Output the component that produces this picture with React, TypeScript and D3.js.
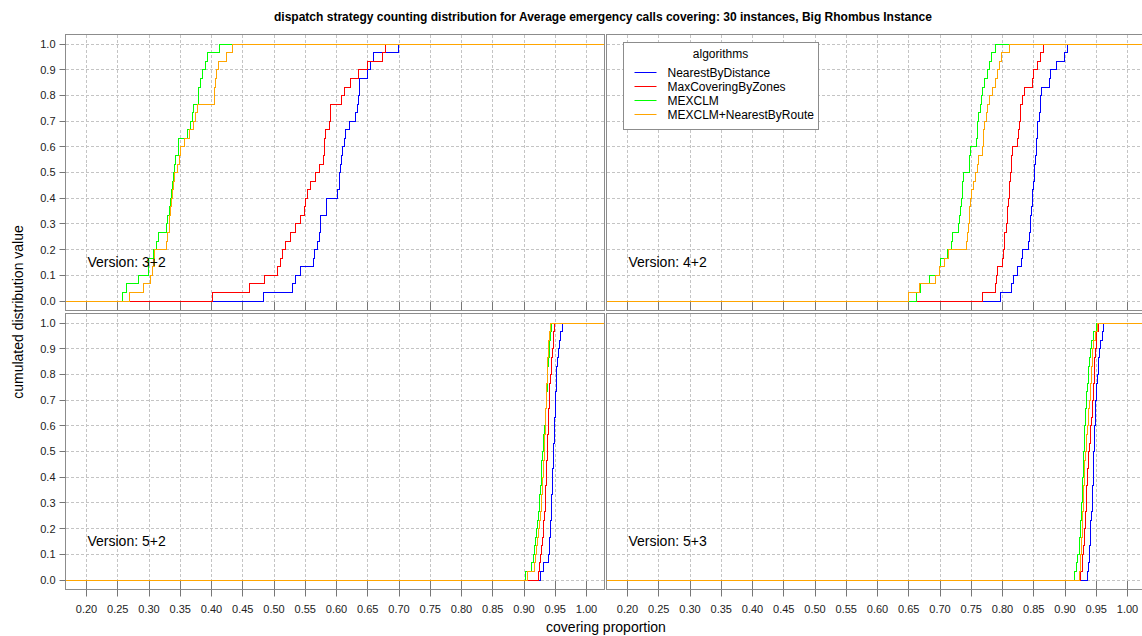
import React from 'react';
import * as d3 from 'd3';

const title = 'dispatch strategy counting distribution for Average emergency calls covering: 30 instances, Big Rhombus Instance';
const algorithms = ['NearestByDistance', 'MaxCoveringByZones', 'MEXCLM', 'MEXCLM+NearestByRoute'];
const colors = ['#0000ff', '#ff0000', '#00ff00', '#ffa500'];
const versions = ['Version: 3+2', 'Version: 4+2', 'Version: 5+2', 'Version: 5+3'];
const xTickLabels = ['0.20', '0.25', '0.30', '0.35', '0.40', '0.45', '0.50', '0.55', '0.60', '0.65', '0.70', '0.75', '0.80', '0.85', '0.90', '0.95', '1.00'];
const yTickLabels = ['0.0', '0.1', '0.2', '0.3', '0.4', '0.5', '0.6', '0.7', '0.8', '0.9', '1.0'];

// covering proportion per instance (30 instances), version 3+2
const nearest32 = [0.483, 0.5293, 0.5347, 0.5416, 0.5629, 0.5651, 0.5693, 0.572, 0.5736, 0.5747, 0.5837, 0.5837, 0.6013, 0.604, 0.6051, 0.6067, 0.6083, 0.6093, 0.612, 0.6147, 0.62, 0.6307, 0.6333, 0.6344, 0.6365, 0.6365, 0.6493, 0.6547, 0.6589, 0.6989];
const maxCov32 = [0.402, 0.46, 0.484, 0.5053, 0.5107, 0.5133, 0.5187, 0.5267, 0.5347, 0.5416, 0.548, 0.5507, 0.5533, 0.5576, 0.5656, 0.572, 0.5784, 0.58, 0.5811, 0.5827, 0.588, 0.5907, 0.5907, 0.6083, 0.612, 0.6227, 0.6349, 0.6493, 0.6733, 0.6787];
const mexclm32 = [0.2575, 0.2639, 0.2831, 0.2996, 0.2996, 0.3065, 0.3119, 0.3156, 0.3279, 0.33, 0.3321, 0.3343, 0.3364, 0.338, 0.3396, 0.3412, 0.3428, 0.3476, 0.3476, 0.3609, 0.3663, 0.3689, 0.3716, 0.3796, 0.3796, 0.3823, 0.3849, 0.3903, 0.3929, 0.412];
const mexRoute32 = [0.2695, 0.2905, 0.302, 0.306, 0.308, 0.3095, 0.3275, 0.33, 0.332, 0.3335, 0.335, 0.3365, 0.338, 0.3395, 0.341, 0.345, 0.348, 0.351, 0.3567, 0.365, 0.3705, 0.374, 0.3777, 0.404, 0.405, 0.406, 0.4075, 0.4116, 0.4247, 0.433];

// version 4+2
const nearest42 = [0.7961, 0.8143, 0.8171, 0.8237, 0.8309, 0.8325, 0.8419, 0.843, 0.8441, 0.8452, 0.8463, 0.8474, 0.8485, 0.8496, 0.8507, 0.8518, 0.8529, 0.854, 0.8545, 0.8556, 0.8567, 0.8584, 0.86, 0.8612, 0.8628, 0.8749, 0.876, 0.886, 0.8997, 0.9036];
const maxCov42 = [0.7675, 0.7884, 0.7906, 0.7912, 0.8006, 0.8017, 0.8028, 0.8039, 0.8061, 0.8072, 0.8083, 0.8094, 0.8105, 0.8116, 0.8127, 0.8138, 0.8149, 0.816, 0.8237, 0.8248, 0.827, 0.8281, 0.8292, 0.8314, 0.8347, 0.8474, 0.849, 0.8556, 0.86, 0.865];
const mexclm42 = [0.6628, 0.6683, 0.6837, 0.6986, 0.7003, 0.7124, 0.7179, 0.7201, 0.7289, 0.7317, 0.7333, 0.7344, 0.7355, 0.7366, 0.7383, 0.7466, 0.7477, 0.7488, 0.7581, 0.7592, 0.7603, 0.762, 0.7647, 0.7664, 0.7686, 0.7708, 0.7758, 0.7785, 0.7829, 0.7895];
const mexRoute42 = [0.6501, 0.6672, 0.6931, 0.6986, 0.7069, 0.7135, 0.7427, 0.7443, 0.7455, 0.7466, 0.7477, 0.7488, 0.751, 0.7537, 0.7565, 0.7592, 0.762, 0.7675, 0.7691, 0.7702, 0.7719, 0.7741, 0.7763, 0.7785, 0.784, 0.7895, 0.7923, 0.795, 0.7978, 0.8116];

// version 5+2
const nearest52 = [0.9269, 0.9306, 0.9387, 0.9403, 0.9414, 0.9425, 0.943, 0.9435, 0.9441, 0.9446, 0.9452, 0.9457, 0.9462, 0.9468, 0.9473, 0.9478, 0.9484, 0.9489, 0.9495, 0.95, 0.9505, 0.951, 0.9516, 0.9521, 0.9527, 0.9538, 0.9548, 0.9575, 0.9591, 0.9618];
const maxCov52 = [0.9231, 0.9253, 0.9269, 0.9285, 0.9296, 0.9306, 0.9317, 0.9328, 0.9339, 0.9344, 0.9349, 0.9355, 0.936, 0.9366, 0.9371, 0.9376, 0.9382, 0.9387, 0.9392, 0.9398, 0.9403, 0.9409, 0.9414, 0.9425, 0.9435, 0.9446, 0.9457, 0.9468, 0.9478, 0.9495];
const mexclm52 = [0.9027, 0.9124, 0.9145, 0.9172, 0.9188, 0.9204, 0.922, 0.9231, 0.9242, 0.9253, 0.9263, 0.9274, 0.928, 0.9285, 0.9296, 0.9306, 0.9317, 0.9328, 0.9339, 0.9349, 0.9355, 0.936, 0.9371, 0.9376, 0.9382, 0.9392, 0.9403, 0.9414, 0.9425, 0.9435];
const mexRoute52 = [0.9054, 0.9161, 0.9177, 0.9199, 0.922, 0.9237, 0.9253, 0.9263, 0.9274, 0.9285, 0.9296, 0.9301, 0.9306, 0.9317, 0.9323, 0.9328, 0.9333, 0.9339, 0.9344, 0.9349, 0.9355, 0.936, 0.9366, 0.9371, 0.9376, 0.9382, 0.9387, 0.9392, 0.9403, 0.9425];

// version 5+3
const nearest53 = [0.9364, 0.938, 0.9386, 0.9397, 0.9402, 0.9408, 0.9413, 0.9424, 0.9435, 0.944, 0.9446, 0.9451, 0.9454, 0.9457, 0.9462, 0.9467, 0.9473, 0.9478, 0.9484, 0.9489, 0.9495, 0.95, 0.9511, 0.9522, 0.9533, 0.9543, 0.9554, 0.9571, 0.9592, 0.962];
const maxCov53 = [0.925, 0.9272, 0.9283, 0.9293, 0.9304, 0.9315, 0.9326, 0.9332, 0.9337, 0.9342, 0.9348, 0.9353, 0.9359, 0.937, 0.938, 0.9391, 0.9402, 0.9413, 0.9424, 0.9435, 0.9446, 0.9457, 0.9462, 0.9467, 0.9473, 0.9478, 0.9489, 0.95, 0.9511, 0.9533];
const mexclm53 = [0.9147, 0.9179, 0.9207, 0.9228, 0.9239, 0.925, 0.9255, 0.9261, 0.9266, 0.9272, 0.9277, 0.9283, 0.9288, 0.9293, 0.9299, 0.9304, 0.931, 0.9315, 0.9321, 0.9326, 0.9337, 0.9348, 0.9359, 0.937, 0.938, 0.9397, 0.9413, 0.9429, 0.9457, 0.9511];
const mexRoute53 = [0.9228, 0.9245, 0.9255, 0.9261, 0.9266, 0.9272, 0.9277, 0.9283, 0.9288, 0.9293, 0.9299, 0.9304, 0.931, 0.9315, 0.9326, 0.9337, 0.9348, 0.9359, 0.937, 0.938, 0.9391, 0.9402, 0.9413, 0.9418, 0.9424, 0.9435, 0.9446, 0.9462, 0.9489, 0.9522];

const panelSeries = [
  [nearest32, maxCov32, mexclm32, mexRoute32],
  [nearest42, maxCov42, mexclm42, mexRoute42],
  [nearest52, maxCov52, mexclm52, mexRoute52],
  [nearest53, maxCov53, mexclm53, mexRoute53],
];

const FONT = '"Liberation Sans", Arial, Helvetica, sans-serif';
const W = 1142, H = 636;
const panelW = 539, panelH = 276;
// panel origins sit on pixel centres, so integer local coords draw crisp 1px lines
const panelLeft = [65.5, 606.5];
const panelTop = [34.5, 313.5];

const x = d3.scaleLinear().domain([0.1664, 1.0288]).range([0, panelW]);
const y = d3.scaleLinear().domain([-0.037, 1.038]).range([panelH, 0]);
const xTicks = xTickLabels.map(Number);
const yTicks = yTickLabels.map(Number);

const sx = (v: number) => Math.round(x(v));
const sy = (v: number) => Math.round(y(v));

const stepLine = d3.line<[number, number]>()
  .x(d => sx(d[0]))
  .y(d => sy(d[1]))
  .curve(d3.curveStepAfter);

// empirical cdf running across the whole panel
function ecdf(values: number[]): [number, number][] {
  const s = [...values].sort(d3.ascending);
  const n = s.length;
  const [d0, d1] = x.domain();
  const pts: [number, number][] = [[d0, 0]];
  s.forEach((v, i) => pts.push([v, (i + 1) / n]));
  pts.push([d1, 1]);
  return pts;
}

const Panel = ({ idx }: { idx: number }) => {
  const col = idx % 2, row = Math.floor(idx / 2);
  const px = panelLeft[col], py = panelTop[row];
  const clipId = `clip-${idx}`;
  return (
    <g transform={`translate(${px},${py})`}>
      <defs>
        <clipPath id={clipId}>
          <rect x={0} y={0} width={panelW} height={panelH} />
        </clipPath>
      </defs>
      <rect x={0} y={0} width={panelW} height={panelH} fill="white" />
      <g clipPath={`url(#${clipId})`} shapeRendering="crispEdges">
        {xTicks.map(t => (
          <line key={'gx' + t} x1={sx(t)} x2={sx(t)} y1={0} y2={sy(0)}
            stroke="#c4c4c4" strokeDasharray="3,2" strokeWidth={1} />
        ))}
        {yTicks.map(t => (
          <line key={'gy' + t} x1={0} x2={panelW} y1={sy(t)} y2={sy(t)}
            stroke="#c4c4c4" strokeDasharray="3,2" strokeWidth={1} />
        ))}
        {xTicks.map(t => (
          <line key={'tx' + t} x1={sx(t)} x2={sx(t)} y1={sy(0)} y2={panelH}
            stroke="#777" strokeWidth={1} />
        ))}
        {panelSeries[idx].map((vals, i) => (
          <path key={i} d={stepLine(ecdf(vals)) || ''}
            fill="none" stroke={colors[i]} strokeWidth={1} />
        ))}
      </g>
      <rect x={0} y={0} width={panelW} height={panelH} fill="none" stroke="#8c8c8c" strokeWidth={1} />
      <text x={22} y={232} fontFamily={FONT} fontSize={14} fill="#000">{versions[idx]}</text>
    </g>
  );
};

const Legend = () => {
  const lx = 623.5, ly = 42.5;
  return (
    <g transform={`translate(${lx},${ly})`}>
      <rect x={0} y={0} width={195} height={87} fill="white" stroke="#8c8c8c" strokeWidth={1} />
      <text x={97} y={15} textAnchor="middle" fontFamily={FONT} fontSize={12} fill="#000">algorithms</text>
      {algorithms.map((a, i) => (
        <g key={a} transform={`translate(0,${30 + i * 14})`}>
          <line x1={11} x2={33} y1={0} y2={0} stroke={colors[i]} strokeWidth={1} />
          <text x={44} y={4} fontFamily={FONT} fontSize={12} fill="#000">{a}</text>
        </g>
      ))}
    </g>
  );
};

export default function App() {
  const bottom = panelTop[1] + panelH;
  return (
    <div style={{ position: 'absolute', left: 0, top: 0 }}>
      <svg width={W} height={H} style={{ display: 'block', background: 'white' }}>
        <text x={603} y={21} textAnchor="middle" fontFamily={FONT} fontSize={12} fontWeight="bold" fill="#000">{title}</text>
        {[0, 1, 2, 3].map(i => <Panel key={i} idx={i} />)}
        <Legend />
        {/* y axis of the left column */}
        {panelTop.map((py, r) => (
          <g key={'ya' + r} transform={`translate(${panelLeft[0]},${py})`}>
            {yTicks.map((t, j) => (
              <g key={t}>
                <line x1={-6} x2={0} y1={sy(t)} y2={sy(t)} stroke="#777" />
                <text x={-10} y={y(t)} dy="0.35em" textAnchor="end" fontFamily={FONT} fontSize={11} fill="#222">{yTickLabels[j]}</text>
              </g>
            ))}
          </g>
        ))}
        {/* x axis under the bottom row */}
        {panelLeft.map((px, c) => (
          <g key={'xa' + c} transform={`translate(${px},${bottom})`}>
            {xTicks.map((t, j) => (
              <g key={t}>
                <line x1={sx(t)} x2={sx(t)} y1={0} y2={7} stroke="#777" />
                <text x={x(t)} y={23} textAnchor="middle" fontFamily={FONT} fontSize={11} fill="#222">{xTickLabels[j]}</text>
              </g>
            ))}
          </g>
        ))}
        <text x={606} y={632} textAnchor="middle" fontFamily={FONT} fontSize={14} fill="#000">covering proportion</text>
        <text transform="translate(23,312) rotate(-90)" textAnchor="middle" fontFamily={FONT} fontSize={14} fill="#000">cumulated distribution value</text>
      </svg>
    </div>
  );
}
